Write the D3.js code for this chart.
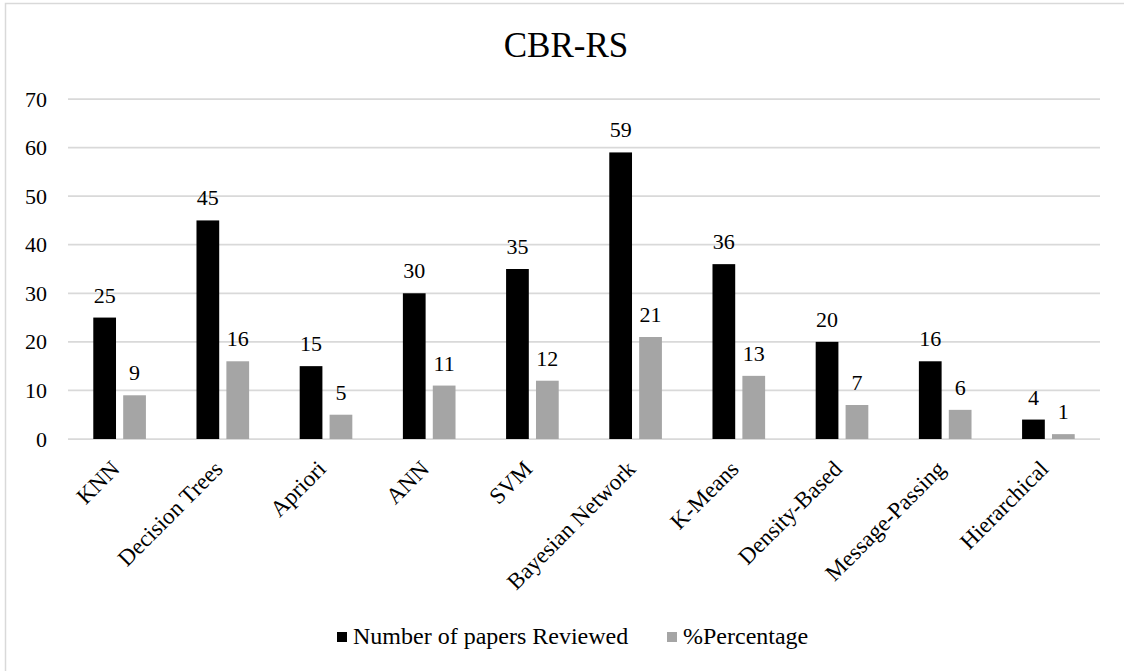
<!DOCTYPE html>
<html>
<head>
<meta charset="utf-8">
<script src="https://cdn.jsdelivr.net/npm/d3@7"></script>
<style>
  html, body { margin: 0; padding: 0; background: #fff; }
  svg { display: block; }
</style>
</head>
<body>
<svg id="chart" width="1124" height="671"></svg>
<script>
// Classification techniques covered in the CBR-RS review
const categories = ["KNN", "Decision Trees", "Apriori", "ANN", "SVM",
  "Bayesian Network", "K-Means", "Density-Based", "Message-Passing", "Hierarchical"];
const papersReviewed = [25, 45, 15, 30, 35, 59, 36, 20, 16, 4];
const percentage = [9, 16, 5, 11, 12, 21, 13, 7, 6, 1];
const seriesNames = ["Number of papers Reviewed", "%Percentage"];
const seriesColors = ["#000000", "#a5a5a5"];
const yTicks = [0, 10, 20, 30, 40, 50, 60, 70];
const chartTitle = "CBR-RS";

const FONT = "'Liberation Serif', 'Times New Roman', Times, serif";

const svg = d3.select("#chart");
const W = 1124, H = 671;
const margin = { left: 68, right: 24, top: 99, bottom: 232 };
const plotW = W - margin.left - margin.right;
const plotH = H - margin.top - margin.bottom;

// Outer chart frame
svg.append("rect")
  .attr("x", 5.5).attr("y", 3.5)
  .attr("width", 1130).attr("height", 680)
  .attr("fill", "#fff").attr("stroke", "#d9d9d9").attr("stroke-width", 1.5);

svg.append("text")
  .attr("x", 566).attr("y", 57)
  .attr("text-anchor", "middle")
  .style("font-family", FONT)
  .style("font-size", "35px")
  .text(chartTitle);

const g = svg.append("g").attr("transform", `translate(${margin.left},${margin.top})`);

const x0 = d3.scaleBand().domain(categories).range([0, plotW]).paddingInner(0.49).paddingOuter(0.245);
const x1 = d3.scaleBand().domain(seriesNames).range([0, x0.bandwidth()]).paddingInner(0.24);
const y = d3.scaleLinear().domain([0, 70]).range([plotH, 0]);

// Horizontal gridlines
g.append("g")
  .selectAll("line")
  .data(yTicks)
  .join("line")
  .attr("x1", 0).attr("x2", plotW)
  .attr("y1", d => y(d)).attr("y2", d => y(d))
  .attr("stroke", "#d9d9d9").attr("stroke-width", 1.75);

// Y axis labels
const yAxis = g.append("g")
  .call(d3.axisLeft(y).tickValues(yTicks).tickSize(0).tickPadding(21));
yAxis.select(".domain").remove();
yAxis.selectAll("text")
  .style("font-family", FONT).style("font-size", "22px").attr("fill", "#000");

// X axis labels, rotated
const xAxis = g.append("g")
  .attr("transform", `translate(0,${plotH})`)
  .call(d3.axisBottom(x0).tickSize(0).tickPadding(0));
xAxis.select(".domain").remove();
xAxis.selectAll("text")
  .style("font-family", FONT).style("font-size", "23px").attr("fill", "#000")
  .attr("text-anchor", "end")
  .attr("dy", null)
  .attr("transform", "translate(-10,20) rotate(-45)")
  .attr("y", 0).attr("x", 0)
  .attr("dominant-baseline", "hanging");

const series = [papersReviewed, percentage];

const groups = g.append("g")
  .selectAll("g")
  .data(categories)
  .join("g")
  .attr("transform", d => `translate(${x0(d)},0)`);

groups.selectAll("rect")
  .data((d, i) => seriesNames.map((s, j) => ({ s, v: series[j][i], c: seriesColors[j] })))
  .join("rect")
  .attr("x", d => x1(d.s))
  .attr("width", x1.bandwidth())
  .attr("y", d => y(d.v))
  .attr("height", d => y(0) - y(d.v))
  .attr("fill", d => d.c);

groups.selectAll("text.val")
  .data((d, i) => seriesNames.map((s, j) => ({ s, v: series[j][i] })))
  .join("text")
  .attr("class", "val")
  .attr("x", d => x1(d.s) + x1.bandwidth() / 2)
  .attr("y", d => y(d.v) - 15)
  .attr("text-anchor", "middle")
  .style("font-family", FONT).style("font-size", "22px")
  .text(d => d.v);

// Legend
const legend = svg.append("g");
const legendItems = [{ x: 337, name: seriesNames[0], c: seriesColors[0] },
                     { x: 667, name: seriesNames[1], c: seriesColors[1] }];
legendItems.forEach(it => {
  legend.append("rect").attr("x", it.x).attr("y", 632).attr("width", 10).attr("height", 10).attr("fill", it.c);
  legend.append("text").attr("x", it.x + 16).attr("y", 644)
    .style("font-family", FONT).style("font-size", "24px").text(it.name);
});
</script>
</body>
</html>
